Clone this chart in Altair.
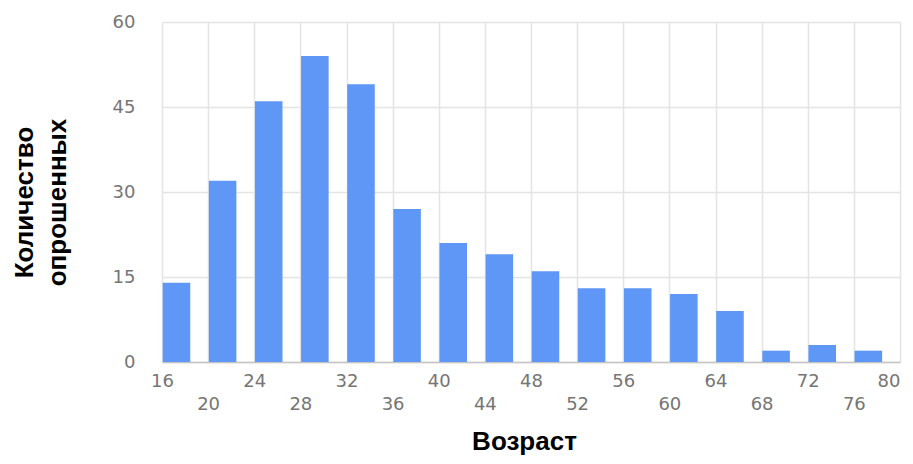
import altair as alt
import pandas as pd

bin_start = [16, 20, 24, 28, 32, 36, 40, 44, 48, 52, 56, 60, 64, 68, 72, 76]
counts = [14, 32, 46, 54, 49, 27, 21, 19, 16, 13, 13, 12, 9, 2, 3, 2]
x_ticks = list(range(16, 81, 4))
y_ticks = [0, 15, 30, 45, 60]

df = pd.DataFrame({"start": bin_start, "count": counts})

label_font = "DejaVu Sans"
title_font = "Liberation Sans"
label_color = "#757575"
grid_color = "#e4e4e4"

chart = alt.Chart(df).transform_calculate(
    x0="datum.start + 0.06",
    x1="datum.start + 2.45",
).mark_bar(color="#5e97f6").encode(
    x=alt.X(
        "x0:Q",
        scale=alt.Scale(domain=[16, 80], nice=False, zero=False),
        axis=alt.Axis(
            values=x_ticks,
            title="Возраст",
            titleFont=title_font,
            titleFontSize=26,
            titleFontWeight="bold",
            titleColor="#000000",
            titleX=362,
            titleY=87,
            titleBaseline="alphabetic",
            labelFont=label_font,
            labelFontSize=18,
            labelColor=label_color,
            labelPadding=10,
            labelBaseline="top",
            labelLineHeight=23,
            labelFlush=False,
            labelOverlap=False,
            labelAlign={"condition": {"test": "datum.value == 80", "value": "right"}, "value": "center"},
            labelExpr="(datum.value - 16) % 8 == 0 ? datum.label : ['', datum.label]",
            ticks=False,
            grid=True,
            gridColor=grid_color,
            gridWidth=1.5,
            domainColor="#c4c4c4",
            domainWidth=1.5,
        ),
    ),
    x2="x1:Q",
    y=alt.Y(
        "count:Q",
        scale=alt.Scale(domain=[0, 60], nice=False),
        axis=alt.Axis(
            values=y_ticks,
            title=["Количество", "опрошенных"],
            titleFont=title_font,
            titleFontSize=26,
            titleFontWeight="bold",
            titleColor="#000000",
            titleLineHeight=33,
            titleX=-130,
            titleY=180,
            titleAngle=-90,
            titleAlign="center",
            titleBaseline="alphabetic",
            labelFont=label_font,
            labelFontSize=18,
            labelColor=label_color,
            labelPadding=27,
            ticks=False,
            domain=False,
            grid=True,
            gridColor=grid_color,
            gridWidth=1.5,
        ),
    ),
    y2=alt.datum(0),
).properties(
    width=738,
    height=340,
    autosize=alt.AutoSizeParams(type="none"),
    padding={"left": 154, "top": 14, "right": 5, "bottom": 94},
).configure_view(stroke=None)

chart.save("out.html", embed_options={"renderer": "svg", "actions": False})
